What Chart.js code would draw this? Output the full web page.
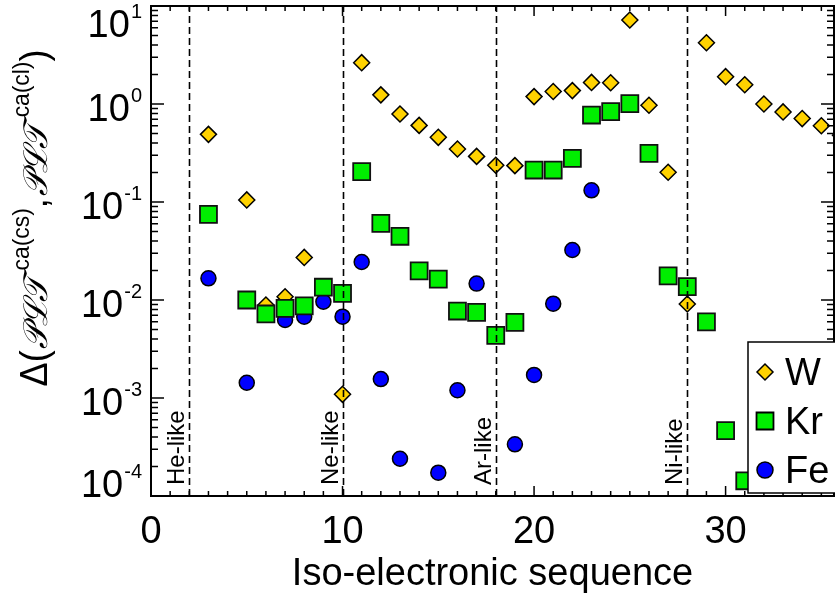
<!DOCTYPE html>
<html>
<head>
<meta charset="utf-8">
<script src="https://cdn.jsdelivr.net/npm/chart.js@4.4.1/dist/chart.umd.min.js"></script>
<style>
  body { margin: 0; background: #fff; }
  #wrap { width: 835px; height: 600px; }
</style>
</head>
<body>
<div id="wrap"><canvas id="plt"></canvas></div>
<script>
// iso-electronic sequence index and relative difference, per element
const wSeq = [3, 5, 6, 7, 8, 10, 11, 12, 13, 14, 15, 16, 17, 18, 19, 20, 21, 22, 23, 24, 25, 26, 27, 28, 29, 30, 31, 32, 33, 34, 35, 36];
const wDiff = [0.49, 0.105, 0.0089, 0.0108, 0.0272, 0.00109, 2.64, 1.24, 0.79, 0.605, 0.457, 0.347, 0.292, 0.237, 0.235, 1.19, 1.34, 1.37, 1.66, 1.65, 7.2, 0.97, 0.201, 0.0091, 4.22, 1.90, 1.57, 1.0, 0.83, 0.71, 0.60, 0.48];

const krSeq = [3, 5, 6, 7, 8, 9, 10, 11, 12, 13, 14, 15, 16, 17, 18, 19, 20, 21, 22, 23, 24, 25, 26, 27, 28, 29, 30, 31];
const krDiff = [0.0749, 0.0100, 0.0072, 0.0082, 0.0087, 0.0135, 0.0117, 0.204, 0.0606, 0.0447, 0.0198, 0.0163, 0.00772, 0.00748, 0.00436, 0.00592, 0.212, 0.212, 0.279, 0.772, 0.835, 1.01, 0.314, 0.0176, 0.0137, 0.00597, 0.000464, 0.000143];

const feSeq = [3, 5, 7, 8, 9, 10, 11, 12, 13, 15, 16, 17, 19, 20, 21, 22, 23];
const feDiff = [0.01665, 0.00143, 0.00625, 0.00676, 0.0096, 0.00676, 0.0244, 0.00156, 0.00024, 0.000173, 0.0012, 0.0147, 0.000337, 0.00172, 0.00917, 0.0324, 0.1316];

// closed shells
const shellSeq = [2, 10, 18, 28];
const shellNames = ['He-like', 'Ne-like', 'Ar-like', 'Ni-like'];

const xTicks = [0, 10, 20, 30];
const yExponents = [1, 0, -1, -2, -3, -4];

const FONT = '"Liberation Sans", Arial, sans-serif';

function pts(xs, ys) {
    return xs.map((v, i) => ({ x: v, y: ys[i] }));
}

function noPad(scale) {
    scale.paddingLeft = 0;
    scale.paddingRight = 0;
    scale.paddingTop = 0;
    scale.paddingBottom = 0;
}

const frame = {
    id: 'frame',
    afterDatasetsDraw(chart) {
        const ctx = chart.ctx, a = chart.chartArea;
        const sx = chart.scales.x, sy = chart.scales.y;
        ctx.save();

        // shell lines
        ctx.strokeStyle = '#000';
        ctx.lineWidth = 1.6;
        ctx.setLineDash([7, 4]);
        shellSeq.forEach(v => {
            const px = Math.round(sx.getPixelForValue(v)) + 0.5;
            ctx.beginPath();
            ctx.moveTo(px, a.bottom);
            ctx.lineTo(px, a.top);
            ctx.stroke();
        });
        ctx.setLineDash([]);

        ctx.fillStyle = '#000';
        ctx.font = '24px ' + FONT;
        ctx.textAlign = 'left';
        ctx.textBaseline = 'alphabetic';
        shellSeq.forEach((v, i) => {
            const px = sx.getPixelForValue(v);
            ctx.save();
            ctx.translate(px - 5, a.bottom - 11);
            ctx.rotate(-Math.PI / 2);
            ctx.fillText(shellNames[i], 0, 0);
            ctx.restore();
        });

        // box and inward ticks
        ctx.lineWidth = 2;
        ctx.strokeRect(a.left, a.top, a.right - a.left, a.bottom - a.top);
        ctx.lineWidth = 1.5;
        ctx.beginPath();
        for (let v = Math.ceil(sx.min); v <= sx.max; v++) {
            const px = sx.getPixelForValue(v);
            const len = v % 10 === 0 ? 10 : 5;
            ctx.moveTo(px, a.bottom); ctx.lineTo(px, a.bottom - len);
            ctx.moveTo(px, a.top); ctx.lineTo(px, a.top + len);
        }
        for (let e = -4; e <= 0; e++) {
            for (let m = 1; m <= 9; m++) {
                const py = sy.getPixelForValue(m * Math.pow(10, e));
                const len = m === 1 ? 13 : 7;
                ctx.moveTo(a.left, py); ctx.lineTo(a.left + len, py);
                ctx.moveTo(a.right, py); ctx.lineTo(a.right - len, py);
            }
        }
        ctx.stroke();
        ctx.restore();
    },
    afterDraw(chart) {
        const ctx = chart.ctx, a = chart.chartArea;
        const sy = chart.scales.y;
        ctx.save();
        ctx.fillStyle = '#000';
        ctx.textBaseline = 'alphabetic';
        ctx.textAlign = 'left';

        // y tick labels with exponents
        yExponents.forEach(e => {
            const ty = sy.getPixelForValue(Math.pow(10, e));
            const base = Math.min(Math.max(ty + 17, a.top + 31), a.bottom + 1);
            const sup = e < 0 ? '-' + (-e) : String(e);
            ctx.font = '20px ' + FONT;
            const w2 = ctx.measureText(sup).width;
            ctx.font = '38px ' + FONT;
            const w1 = ctx.measureText('10').width;
            const right = a.left - 9;
            ctx.fillText('10', right - w2 - w1 - 1, base);
            ctx.font = '20px ' + FONT;
            ctx.fillText(sup, right - w2, base - 19);
        });

        // y title, squeezed to the length of the original
        const parts = [
            { t: 'Δ(', f: '38px ' + FONT, dy: 0, gap: 1 },
            { t: '𝒫ℒ𝒯', f: 'italic 34px "DejaVu Serif", serif', dy: 0, gap: 7 },
            { t: 'ca(cs)', f: '24px ' + FONT, dy: -18, gap: 0 },
            { t: ',', f: '38px ' + FONT, dy: 0, gap: 2 },
            { t: '𝒫ℒ𝒯', f: 'italic 34px "DejaVu Serif", serif', dy: 0, gap: 7 },
            { t: 'ca(cl)', f: '24px ' + FONT, dy: -18, gap: 0 },
            { t: ')', f: '38px ' + FONT, dy: 0, gap: 0 }
        ];
        let total = 0;
        parts.forEach(p => { ctx.font = p.f; p.w = ctx.measureText(p.t).width; total += p.w + p.gap; });
        const k = Math.min(1, 337 / total);
        ctx.translate(47, 218);
        ctx.rotate(-Math.PI / 2);
        ctx.scale(k, 1);
        let cx = -total / 2;
        parts.forEach(p => {
            ctx.font = p.f;
            ctx.fillText(p.t, cx, p.dy);
            cx += p.w + p.gap;
        });
        ctx.restore();

        // legend in the lower right corner
        ctx.save();
        const lx = a.right - 86, ly = a.bottom - 154, lb = a.bottom - 3;
        ctx.fillStyle = '#fff';
        ctx.fillRect(lx, ly, 100, lb - ly);
        ctx.strokeStyle = '#000';
        ctx.lineWidth = 1.5;
        ctx.strokeRect(lx, ly, 100, lb - ly);
        chart.data.datasets.forEach((ds, i) => {
            const base = ly + 43 + i * 49;
            ctx.fillStyle = ds.backgroundColor;
            ctx.strokeStyle = '#000';
            ctx.lineWidth = ds.borderWidth;
            Chart.helpers.drawPoint(ctx, {
                pointStyle: ds.pointStyle,
                radius: ds.legendRadius,
                borderWidth: ds.borderWidth
            }, lx + 17, base - 13);
            ctx.fillStyle = '#000';
            ctx.font = '38px ' + FONT;
            ctx.fillText(ds.label, lx + 37, base);
        });
        ctx.restore();
    }
};

new Chart(document.getElementById('plt'), {
    type: 'scatter',
    data: {
        datasets: [
            {
                label: 'W',
                data: pts(wSeq, wDiff),
                pointStyle: 'rectRot',
                pointRadius: 8,
                legendRadius: 8,
                backgroundColor: '#ffd200',
                borderColor: '#000',
                borderWidth: 1.5,
                order: 2
            },
            {
                label: 'Kr',
                data: pts(krSeq, krDiff),
                pointStyle: 'rect',
                pointRadius: 12,
                legendRadius: 12,
                backgroundColor: '#00ee00',
                borderColor: '#111',
                borderWidth: 1.8,
                order: 0
            },
            {
                label: 'Fe',
                data: pts(feSeq, feDiff),
                pointStyle: 'circle',
                pointRadius: 7.5,
                legendRadius: 8,
                backgroundColor: '#0000ff',
                borderColor: '#000',
                borderWidth: 1.5,
                order: 1
            }
        ]
    },
    options: {
        responsive: true,
        maintainAspectRatio: false,
        animation: false,
        devicePixelRatio: 1,
        layout: { autoPadding: false, padding: { top: 6, right: 1, left: 0, bottom: 0 } },
        plugins: {
            legend: { display: false },
            tooltip: { enabled: false }
        },
        scales: {
            x: {
                type: 'linear',
                min: 0,
                max: 35.66,
                grid: { display: false },
                border: { display: false },
                afterBuildTicks: (scale) => { scale.ticks = xTicks.map(v => ({ value: v })); },
                afterFit: (scale) => { scale.height = 104; noPad(scale); },
                ticks: {
                    color: '#000',
                    padding: 6,
                    maxRotation: 0,
                    font: { family: FONT, size: 38 }
                },
                title: {
                    display: true,
                    text: 'Iso-electronic sequence',
                    color: '#000',
                    font: { family: FONT, size: 38 },
                    padding: { top: 0, bottom: 3 }
                }
            },
            y: {
                type: 'logarithmic',
                min: 1e-4,
                max: 10,
                grid: { display: false },
                border: { display: false },
                ticks: { display: false },
                afterFit: (scale) => { scale.width = 151; noPad(scale); }
            }
        }
    },
    plugins: [frame]
});
</script>
</body>
</html>
